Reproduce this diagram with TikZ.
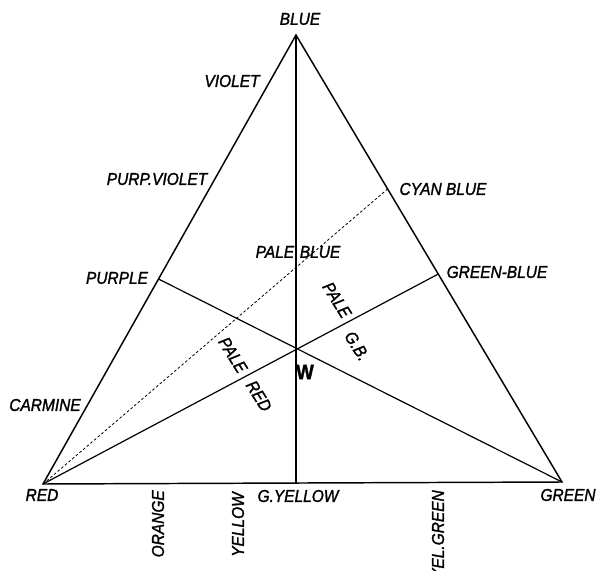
\documentclass[tikz,border=0pt]{standalone}
\usepackage{fontspec}
\newfontfamily\labfont{Liberation Sans}[FakeStretch=0.9, FakeBold=1.5]
\usetikzlibrary{positioning}

\begin{document}
\begin{tikzpicture}[x=0.75pt, y=-0.75pt,
        every node/.style={inner sep=0pt},
        tag/.style={font=\labfont\itshape\fontsize{12.9}{14}\selectfont},
        across/.style={tag, rotate=-58},
        upward/.style={tag, rotate=90, anchor=east},
        side/.style={line width=1.1pt},
        chord/.style={line width=0.9pt},
        dotline/.style={line width=0.6pt, dash pattern=on 2pt off 1.6pt}]

  \useasboundingbox (0,0) rectangle (597,571);

  %%% Corners of the triangle
  \coordinate (vRed) at (43,484);
  \coordinate (vGreen) at (562,482);
  \coordinate (vBlue) at (296,35);

  %%% Points on the sides
  \coordinate (pPurple) at (158.5,279);
  \coordinate (pGreenBlue) at (438.3,274);
  \coordinate (pCyan) at (387.6,189);
  \coordinate (pGYellow) at (296,483);

  % White point
  \coordinate (pW) at (295.5,348);

  %%% Triangle sides
  \draw[side] (vRed) -- (vGreen) -- (vBlue) -- cycle;

  %%% Lines through W
  \draw[chord] (vBlue) -- (pGYellow);
  \draw[chord] (pPurple) -- (vGreen);
  \draw[chord] (vRed) -- (pGreenBlue);

  % Dotted line to cyan blue
  \draw[dotline] (vRed) -- (pCyan);

  %%% Corner labels
  \node[tag] (lBlue) at (300,19) {BLUE};
  \node[tag] (lRed) at (42,495) {RED};
  \node[tag] (lGreen) at (568,495) {GREEN};

  %%% Left side
  \node[tag] (lViolet) at (232,81) {VIOLET};
  \node[tag] (lPurpViolet) at (157,179) {PURP.VIOLET};
  \node[tag] (lPurple) at (117,278) {PURPLE};
  \node[tag] (lCarmine) at (45,405) {CARMINE};

  %%% Right side
  \node[tag] (lCyan) at (443,189) {CYAN BLUE};
  \node[tag] (lGreenBlue) at (497,272) {GREEN-BLUE};

  %%% Bottom side
  \node[tag] (lGYellow) at (298,496) {G.YELLOW};
  \node[upward] (lOrange) at (158,490) {ORANGE};
  \node[upward] (lYellow) at (238,492) {YELLOW};
  \node[upward] (lYelGreen) at (438,490) {YEL.GREEN};

  %%% Inside
  \node[tag] (lPaleBlue) at (298,252) {PALE\,\,BLUE};
  \node[across] (lPaleGB) at (337,300) {PALE};
  \node[across] (lGB) at (357,346) {G.B.};
  \node[across] (lPaleRed) at (233,355) {PALE};
  \node[across] (lRedPale) at (259,396) {RED};
  \node[font=\labfont\bfseries\fontsize{15.5}{17}\selectfont] (lW) at (305,372) {W};
\end{tikzpicture}
\end{document}
